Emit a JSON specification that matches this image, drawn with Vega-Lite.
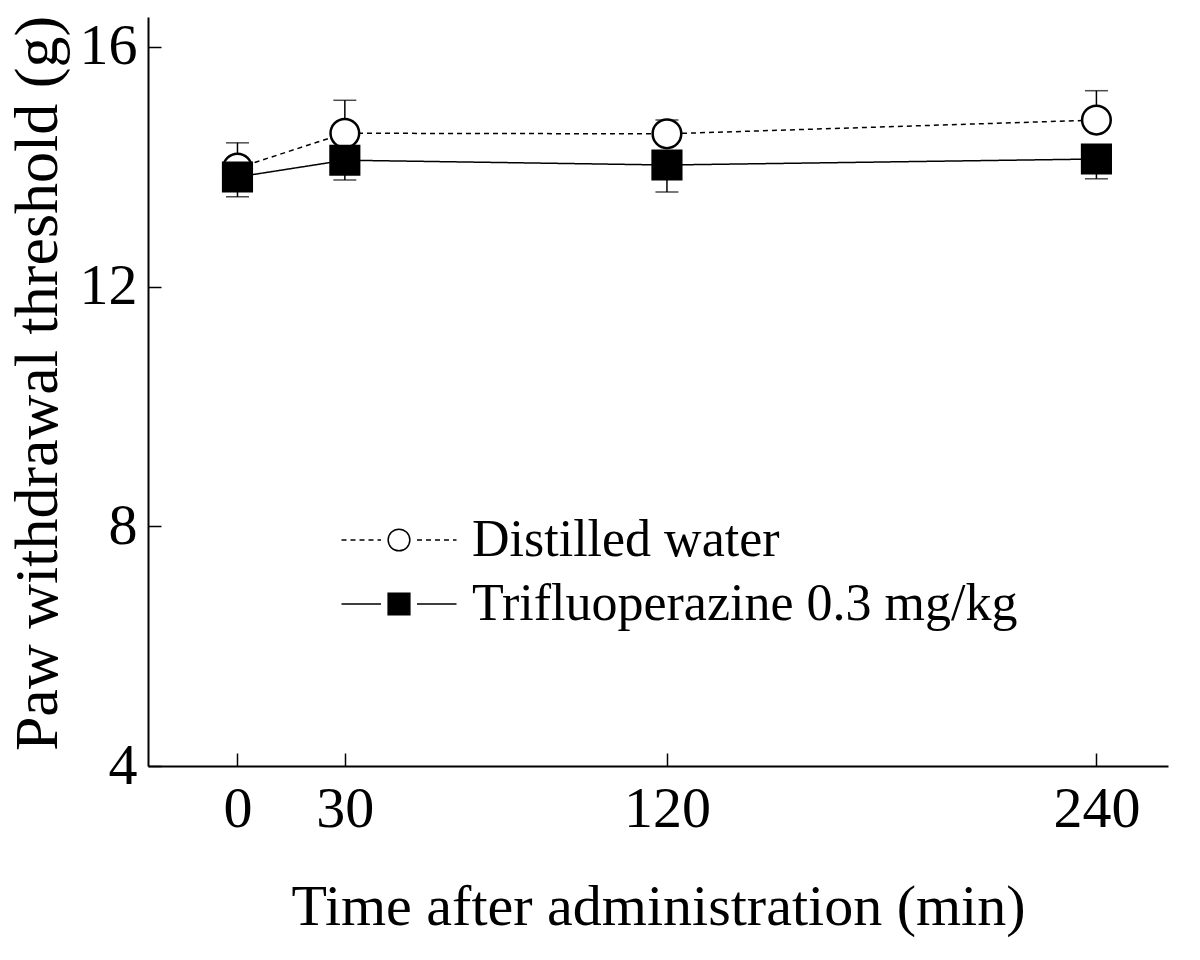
{
  "$schema": "https://vega.github.io/schema/vega-lite/v6.json",
  "width": 1020,
  "height": 749,
  "autosize": "none",
  "padding": {"left": 148, "top": 17, "right": 32, "bottom": 194},
  "background": "white",
  "config": {
    "view": {"stroke": null},
    "font": "Liberation Serif",
    "axis": {
      "grid": false,
      "domainColor": "black",
      "domainWidth": 2,
      "tickColor": "black",
      "tickWidth": 1.5,
      "tickSize": -13,
      "labelColor": "black",
      "labelFont": "Liberation Serif",
      "labelFontSize": 58,
      "titleColor": "black",
      "titleFont": "Liberation Serif",
      "titleFontSize": 58,
      "titleFontWeight": "normal"
    },
    "legend": {
      "labelFont": "Liberation Serif",
      "labelFontSize": 52,
      "labelColor": "black",
      "labelLimit": 0
    }
  },
  "data": {
    "values": [
      {"group": "Distilled water", "marker": "water", "time": 0, "mean": 13.98, "err": 14.40},
      {"group": "Distilled water", "marker": "water", "time": 30, "mean": 14.56, "err": 15.11},
      {"group": "Distilled water", "marker": "water", "time": 120, "mean": 14.55, "err": 14.78},
      {"group": "Distilled water", "marker": "water", "time": 240, "mean": 14.78, "err": 15.27},
      {"group": "Trifluoperazine 0.3 mg/kg", "marker": "trifluoperazine", "time": 0, "mean": 13.83, "err": 13.50},
      {"group": "Trifluoperazine 0.3 mg/kg", "marker": "trifluoperazine", "time": 30, "mean": 14.11, "err": 13.78},
      {"group": "Trifluoperazine 0.3 mg/kg", "marker": "trifluoperazine", "time": 120, "mean": 14.03, "err": 13.58},
      {"group": "Trifluoperazine 0.3 mg/kg", "marker": "trifluoperazine", "time": 240, "mean": 14.13, "err": 13.80}
    ]
  },
  "encoding": {
    "x": {
      "field": "time",
      "type": "quantitative",
      "title": "Time after administration (min)",
      "scale": {"domain": [-25, 260], "nice": false, "zero": false},
      "axis": {"values": [0, 30, 120, 240], "labelPadding": 27, "titlePadding": 40}
    }
  },
  "layer": [
    {
      "mark": {"type": "rule", "color": "black", "strokeWidth": 1.5},
      "encoding": {
        "y": {"field": "mean", "type": "quantitative", "title": "Paw withdrawal threshold (g)", "scale": {"domain": [4, 16.5], "nice": false, "zero": false}},
        "y2": {"field": "err"}
      }
    },
    {
      "mark": {"type": "tick", "color": "black", "thickness": 1.5, "size": 23, "orient": "horizontal"},
      "encoding": {
        "y": {"field": "err", "type": "quantitative", "title": "Paw withdrawal threshold (g)"}
      }
    },
    {
      "mark": {"type": "line", "color": "black", "strokeWidth": 1.5},
      "encoding": {
        "y": {
          "field": "mean",
          "type": "quantitative",
          "title": "Paw withdrawal threshold (g)",
          "axis": {"values": [4, 8, 12, 16], "format": "d", "labelPadding": 24, "titlePadding": 10, "titleFontSize": 62, "titleY": 366}
        },
        "strokeDash": {
          "field": "group",
          "type": "nominal",
          "scale": {"domain": ["Distilled water", "Trifluoperazine 0.3 mg/kg"], "range": [[5, 4], [1, 0]]},
          "legend": {
            "orient": "none",
            "legendX": 225,
            "legendY": 497,
            "title": null,
            "padding": 0,
            "symbolType": "M-5.75,0H-1.8M1.8,0H5.75",
            "symbolSize": 400,
            "symbolStrokeWidth": 1.5,
            "symbolStrokeColor": "black",
            "labelOffset": 47,
            "rowPadding": 12
          }
        }
      }
    },
    {
      "mark": {"type": "point", "filled": true, "stroke": "black", "strokeWidth": 2.5, "size": 820, "opacity": 1},
      "encoding": {
        "y": {"field": "mean", "type": "quantitative", "title": "Paw withdrawal threshold (g)"},
        "shape": {
          "field": "marker",
          "type": "nominal",
          "scale": {"domain": ["water", "trifluoperazine"], "range": ["circle", "square"]},
          "legend": {
            "orient": "none",
            "legendX": 225,
            "legendY": 497,
            "title": null,
            "padding": 0,
            "symbolSize": 470,
            "labelOffset": 47,
            "rowPadding": 12,
            "labelExpr": "' '",
            "encode": {
              "symbols": {
                "update": {
                  "stroke": {"value": "black"},
                  "strokeWidth": {"value": 2}
                }
              }
            }
          }
        },
        "fill": {
          "field": "marker",
          "type": "nominal",
          "scale": {"domain": ["water", "trifluoperazine"], "range": ["white", "black"]}
        }
      }
    }
  ]
}
